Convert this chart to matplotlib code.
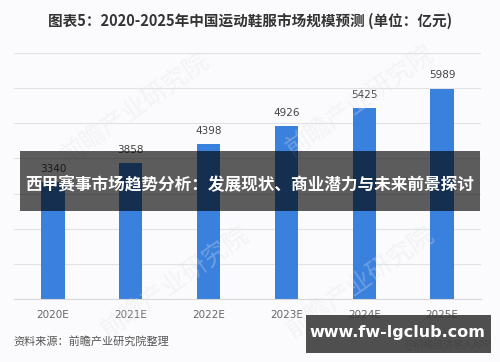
import matplotlib
matplotlib.use("Agg")
import matplotlib.pyplot as plt
from matplotlib.patches import Rectangle

plt.rcParams['font.family'] = ['Noto Sans CJK SC', 'DejaVu Sans']

categories = ["2020E", "2021E", "2022E", "2023E", "2024E", "2025E"]
values = [3340, 3858, 4398, 4926, 5425, 5989]
title = "图表5：2020-2025年中国运动鞋服市场规模预测 (单位：亿元)"
banner = "西甲赛事市场趋势分析：发展现状、商业潜力与未来前景探讨"
source = "资料来源：前瞻产业研究院整理"
site = "www.fw-lgclub.com"
watermark = "前瞻产业研究院"
app_mark = "@前瞻经济学人APP"

W, H = 500, 362
fig = plt.figure(figsize=(W / 100, H / 100), dpi=100)
fig.patch.set_facecolor("#fbfbfd")

ax = fig.add_axes([14 / W, 1 - 299 / H, (481 - 14) / W, (299 - 53) / H])
ax.set_facecolor("none")
x = list(range(len(categories)))
ax.bar(x, values, width=0.3, color="#3a80dd", zorder=2)
for xi, v in zip(x, values):
    ax.text(xi, v + 230, str(v), ha="center", va="bottom", fontsize=7.5,
            color="#444444", family=["DejaVu Sans"])
ax.set_xlim(-0.5, len(categories) - 0.5)
ax.set_ylim(0, 7000)
ax.set_yticks(range(0, 7001, 1000))
ax.yaxis.grid(True, color="#e2e2e6", linewidth=0.8, zorder=0)
ax.set_yticklabels([])
ax.tick_params(axis="y", length=0)
ax.set_xticks(x)
ax.set_xticklabels(categories, fontsize=7.5, color="#666666", family=["DejaVu Sans"])
ax.tick_params(axis="x", length=0, pad=8)
for s in ["top", "right", "left"]:
    ax.spines[s].set_visible(False)
ax.spines["bottom"].set_color("#d8d8dc")
ax.spines["bottom"].set_linewidth(0.8)

# faint diagonal watermarks
for (wx, wy) in [(0.27, 0.70), (0.72, 0.72), (0.35, 0.22), (0.72, 0.22)]:
    fig.text(wx, wy, watermark, fontsize=18, color="#dfe2e8", alpha=0.3,
             rotation=35, ha="center", va="center", zorder=0)

fig.text(0.5, 1 - 21 / H, title, ha="center", va="center", fontsize=10.5,
         fontweight="bold", color="#333333")
fig.text(13 / W, 1 - 341 / H, source, ha="left", va="center", fontsize=8,
         color="#555555")
fig.text(491 / W, 1 - 345 / H, app_mark, ha="right", va="center", fontsize=7,
         color="#9a9a9a")

# banner overlay
fig.patches.append(Rectangle((20 / W, 1 - 211 / H), (480 - 20) / W, (211 - 151) / H,
                             transform=fig.transFigure, facecolor="black",
                             alpha=0.63, edgecolor="none", zorder=5))
fig.text(250 / W, 1 - 185 / H, banner, ha="center", va="center", fontsize=12,
         fontweight="bold", color="white", zorder=6)

# site box
fig.patches.append(Rectangle((306 / W, 1 - 353 / H), (491 - 306) / W, (353 - 315) / H,
                             transform=fig.transFigure, facecolor="#3c3c3c",
                             alpha=0.9, edgecolor="none", zorder=5))
fig.text(397 / W, 1 - 333 / H, site, ha="center", va="center", fontsize=11.5,
         fontweight="bold", color="white", family=["DejaVu Sans"], zorder=6)

fig.savefig("out.png", dpi=100, facecolor=fig.get_facecolor())
